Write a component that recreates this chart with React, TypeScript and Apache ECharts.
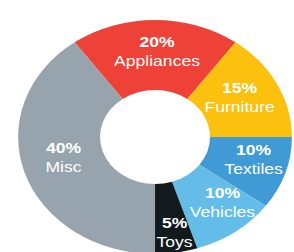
import React, { useEffect, useRef } from "react";
import * as echarts from "echarts";

const categories = ["Appliances", "Furniture", "Textiles", "Vehicles", "Toys", "Misc"];
const values = [20, 15, 10, 10, 5, 40];
const colors = ["#EE4137", "#FCC00E", "#3F9AD5", "#63BDE8", "#121A1D", "#98A4AD"];

// small label nudges (screen px) to match the reference placement
const labelNudge: [number, number][] = [[2, -1], [-4, -1], [4, -4], [9, -4], [4, 11], [3, -6]];

const SX = 1.17;
const W = 294;
const H = 252;
const CX = 132.5;
const CY = 137;
const R_IN = 47;
const R_OUT = 117;
const START = 126;
const FONT = "Liberation Sans, Arial, sans-serif";

export default function App() {
  const ref = useRef<HTMLDivElement>(null);
  useEffect(() => {
    if (!ref.current) return;
    const chart = echarts.init(ref.current, null, { renderer: "svg" });
    const total = values.reduce((a, b) => a + b, 0);
    let cum = 0;
    const labelR = 85;
    const texts = categories.map((c, i) => {
      const mid = START - (360 * (cum + values[i] / 2)) / total;
      cum += values[i];
      const a = (mid * Math.PI) / 180;
      return {
        type: "text",
        x: CX + labelR * Math.cos(a) + labelNudge[i][0] / SX,
        y: CY - labelR * Math.sin(a) + labelNudge[i][1],
        z: 10,
        style: {
          text: `{p|${values[i]}%}\n{n|${c}}`,
          align: "center",
          verticalAlign: "middle",
          fill: "#fff",
          rich: {
            p: { fill: "#fff", fontSize: 15, fontWeight: "bold", lineHeight: 19, fontFamily: FONT, align: "center" },
            n: { fill: "#fff", fontSize: 15, lineHeight: 19, fontFamily: FONT, align: "center" },
          },
        },
      };
    });
    chart.setOption({
      animation: false,
      series: [
        {
          type: "pie",
          center: [CX, CY],
          radius: [R_IN, R_OUT],
          startAngle: START,
          clockwise: true,
          itemStyle: { borderWidth: 0 },
          label: { show: false },
          labelLine: { show: false },
          data: categories.map((c, i) => ({ name: c, value: values[i], itemStyle: { color: colors[i] } })),
        },
      ],
      graphic: texts,
    });
    return () => chart.dispose();
  }, []);
  return (
    <div style={{ position: "fixed", left: 0, top: 0, width: W, height: H, overflow: "hidden", background: "#fff" }}>
      <div
        ref={ref}
        style={{ width: W / SX, height: H, transform: `scaleX(${SX})`, transformOrigin: "0 0" }}
      />
    </div>
  );
}
